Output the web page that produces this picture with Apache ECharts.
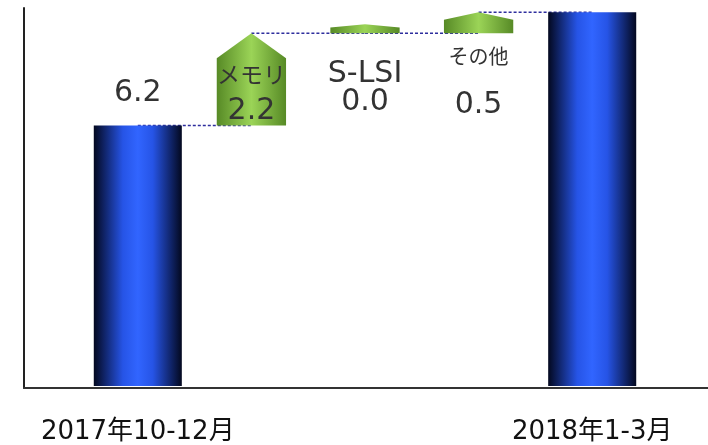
<!DOCTYPE html>
<html>
<head>
<meta charset="utf-8">
<script src="https://cdn.jsdelivr.net/npm/echarts@6/dist/echarts.min.js"></script>
<style>
  html, body { margin: 0; padding: 0; background: #fff; }
  #chart { width: 708px; height: 445px; }
</style>
</head>
<body>
<div id="chart"></div>
<script>
// data
var categories = ['2017年10-12月', 'メモリ', 'S-LSI', 'その他', '2018年1-3月'];
var axisLabels = ['2017年10-12月', '', '', '', '2018年1-3月'];
var kinds = ['total', 'delta', 'delta', 'delta', 'total'];
var values = [6.2, 2.2, 0.0, 0.5, 8.9];
var valueLabels = ['6.2', '2.2', '0.0', '0.5', ''];

// label placement (px, relative to bar top for totals, shape bottom for deltas)
var nameDy = [0, -49, 41, 26, 0];
var valueDy = [-32, -14, 69, 72, 0];
var nameSize = [0, 23, 30, 20, 0];

var FONT = '"DejaVu Sans", "Noto Sans CJK JP", sans-serif';

// build waterfall ranges
var bars = [];
var links = [];
var run = 0;
for (var i = 0; i < values.length; i++) {
	var lowV, highV;
	if (kinds[i] == 'total') {
		lowV = 0; highV = values[i]; run = values[i];
	} else {
		lowV = run; highV = run + values[i]; run = highV;
	}
	bars.push([i, lowV, highV]);
	if (i < values.length - 1) links.push([i, highV]);
}

function blueGrad() {
	return {type: 'linear', x: 0, y: 0, x2: 1, y2: 0, colorStops: [
		{offset: 0, color: '#03081f'},
		{offset: 0.33, color: '#2654e6'},
		{offset: 0.5, color: '#3165ff'},
		{offset: 0.67, color: '#2654e6'},
		{offset: 1, color: '#03081f'}
	]};
}
function greenGrad() {
	return {type: 'linear', x: 0, y: 0, x2: 1, y2: 0, colorStops: [
		{offset: 0, color: '#578a26'},
		{offset: 0.5, color: '#9bd457'},
		{offset: 1, color: '#578a26'}
	]};
}

function renderBar(params, api) {
	var i = api.value(0);
	var lo = api.coord([i, api.value(1)]);
	var hi = api.coord([i, api.value(2)]);
	var band = api.size([1, 0])[0];
	var cx = lo[0];
	var yb = lo[1], yt = hi[1];
	var children = [];
	if (kinds[i] == 'total') {
		var w = band * 0.775;
		children.push({
			type: 'rect',
			shape: {x: cx - w / 2, y: yt, width: w, height: yb - yt},
			style: {fill: blueGrad()}
		});
		if (valueLabels[i]) {
			children.push({
				type: 'text',
				style: {text: valueLabels[i], x: cx, y: yt + valueDy[i], align: 'center', verticalAlign: 'middle',
					fontSize: 30, fontFamily: FONT, fill: '#333'}
			});
		}
	} else {
		var w2 = band * 0.61;
		if (yb - yt < 9) yt = yb - 9;
		var h = yb - yt;
		var peak = 0.36 * Math.min(w2, h);
		var x0 = cx - w2 / 2, x1 = cx + w2 / 2;
		children.push({
			type: 'polygon',
			shape: {points: [[x0, yb], [x1, yb], [x1, yt + peak], [cx, yt], [x0, yt + peak]]},
			style: {fill: greenGrad()}
		});
		children.push({
			type: 'text',
			style: {text: categories[i], x: cx, y: yb + nameDy[i], align: 'center', verticalAlign: 'middle',
				fontSize: nameSize[i], fontFamily: FONT, fill: '#333'}
		});
		children.push({
			type: 'text',
			style: {text: valueLabels[i], x: cx, y: yb + valueDy[i], align: 'center', verticalAlign: 'middle',
				fontSize: 30, fontFamily: FONT, fill: '#333'}
		});
	}
	return {type: 'group', children: children};
}

function renderLink(params, api) {
	var i = api.value(0);
	var a = api.coord([i, api.value(1)]);
	var b = api.coord([i + 1, api.value(1)]);
	return {
		type: 'line',
		shape: {x1: a[0], y1: a[1], x2: b[0], y2: b[1]},
		style: {stroke: '#2e2e9e', lineWidth: 1.5, lineDash: [3, 2]}
	};
}

var chart = echarts.init(document.getElementById('chart'));
var option = {
	animation: false,
	grid: [
		{left: 24, right: 0, top: 8, bottom: 57},
		{left: 81, right: 59, top: 8, bottom: 57}
	],
	xAxis: [
		{
			type: 'category', gridIndex: 0, data: ['a'],
			axisLine: {lineStyle: {color: '#333', width: 2}},
			axisTick: {show: false}, axisLabel: {show: false}
		},
		{
			type: 'category', gridIndex: 1, data: axisLabels,
			axisLine: {show: false}, axisTick: {show: false},
			axisLabel: {margin: 33, fontSize: 26, fontFamily: FONT, color: '#111', interval: 0}
		}
	],
	yAxis: [
		{
			type: 'value', gridIndex: 0, min: 0, max: 9,
			axisLine: {show: true, lineStyle: {color: '#222', width: 2}},
			axisTick: {show: false}, axisLabel: {show: false}, splitLine: {show: false}
		},
		{
			type: 'value', gridIndex: 1, min: 0, max: 9, show: false
		}
	],
	series: [
		{
			type: 'custom', name: 'links', xAxisIndex: 1, yAxisIndex: 1, z: 1,
			renderItem: renderLink, data: links
		},
		{
			type: 'custom', name: 'bars', xAxisIndex: 1, yAxisIndex: 1, z: 2,
			renderItem: renderBar, data: bars
		}
	]
};
chart.setOption(option);
</script>
</body>
</html>
